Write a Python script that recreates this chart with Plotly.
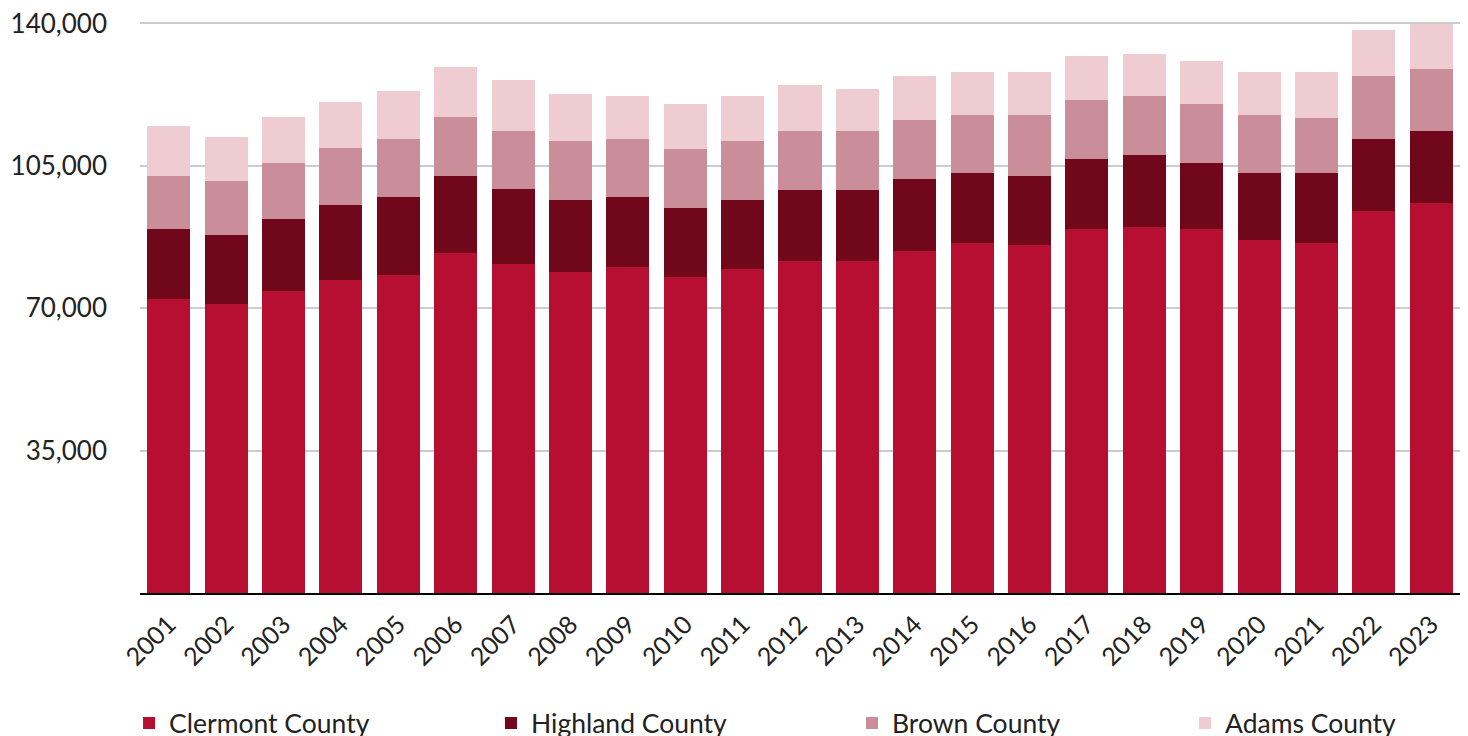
import plotly.graph_objects as go

years = [str(y) for y in range(2001, 2024)]
clermont = [72200, 71000, 74200, 76900, 78100, 83500, 80800, 78800, 80100, 77600, 79600, 81500,
            81500, 84000, 86000, 85500, 89400, 89900, 89400, 86700, 86000, 93800, 95800]
highland = [17200, 16900, 17700, 18400, 19200, 18900, 18400, 17700, 17200, 17000, 16900, 17500,
            17500, 17700, 17200, 16900, 17400, 17700, 16200, 16500, 17200, 17700, 17700]
brown = [13000, 13300, 13700, 14200, 14200, 14500, 14300, 14500, 14200, 14500, 14500, 14500,
         14500, 14500, 14200, 15000, 14500, 14500, 14500, 14200, 13500, 15700, 15200]
adams = [12500, 11000, 11300, 11300, 11800, 12300, 12500, 11600, 10600, 11000, 11100, 11300,
         10500, 11000, 10600, 10600, 10600, 10500, 10600, 10600, 11300, 11300, 11100]

series = [
    ("Clermont County", clermont, "#B70F31"),
    ("Highland County", highland, "#71071B"),
    ("Brown County", brown, "#C98E99"),
    ("Adams County", adams, "#EFCCD2"),
]
y_ticks = [35000, 70000, 105000, 140000]
legend_x = [-0.0083, 0.2659, 0.5394, 0.7917]

fig = go.Figure()
legend_layout = {}
for i, (name, vals, color) in enumerate(series):
    lg = "legend" if i == 0 else f"legend{i + 1}"
    fig.add_trace(go.Bar(x=years, y=vals, name=name, legend=lg,
                         marker=dict(color=color, line=dict(width=0))))
    legend_layout[lg] = dict(orientation="h", x=legend_x[i], xanchor="left", y=-0.186,
                             yanchor="top", font=dict(size=26.5, family="Lato", color="#222222"),
                             bgcolor="rgba(0,0,0,0)")

fig.update_layout(
    barmode="stack",
    bargap=0.25,
    width=1468, height=736,
    margin=dict(l=140, r=8, t=21, b=143, autoexpand=False),
    plot_bgcolor="white", paper_bgcolor="white",
    font=dict(family="Lato", color="#222222"),
    showlegend=True,
    xaxis=dict(type="category", tickangle=-45, tickfont=dict(size=25), showline=True,
               linecolor="black", linewidth=2, ticks="", showgrid=False,
               ticklabelstandoff=5),
    yaxis=dict(range=[0, 140600], tickvals=y_ticks, tickformat=",", tickfont=dict(size=26),
               showgrid=True, gridcolor="#CCCCCC", gridwidth=1.5, zeroline=False, ticks="",
               ticklabelstandoff=32),
    **legend_layout,
)

fig.write_html("out.html", config={"displayModeBar": False},
               post_script="document.body.style.margin='0px';document.body.style.overflow='hidden';")
